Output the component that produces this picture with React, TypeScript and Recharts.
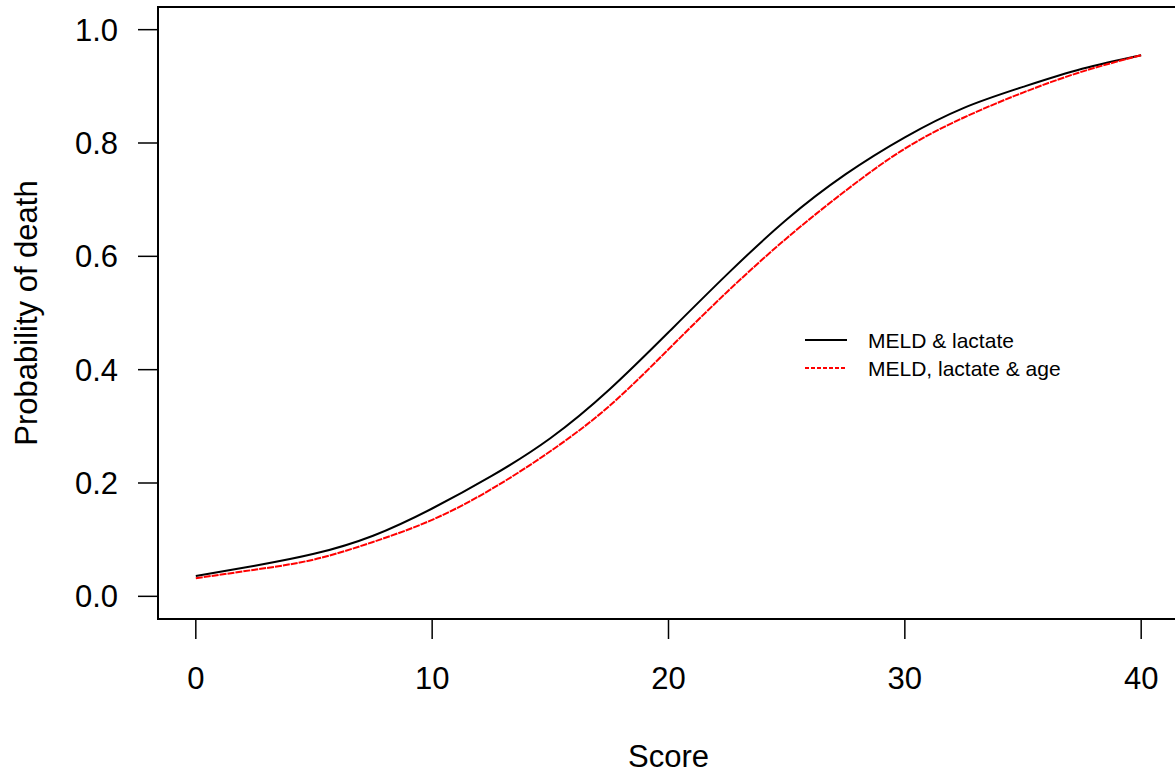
import React from 'react'
import { LineChart, Line, XAxis, YAxis, Legend, ReferenceArea } from 'recharts'

// score values every 2.5 points
const scores = [0, 2.5, 5, 7.5, 10, 12.5, 15, 17.5, 20, 22.5, 25, 27.5, 30, 32.5, 35, 37.5, 40]
const meldLactate = [0.036, 0.054, 0.075, 0.107, 0.155, 0.212, 0.279, 0.365, 0.466, 0.569, 0.665, 0.745, 0.81, 0.862, 0.899, 0.931, 0.955]
const meldLactateAge = [0.032, 0.047, 0.065, 0.096, 0.135, 0.189, 0.256, 0.336, 0.436, 0.538, 0.632, 0.716, 0.79, 0.845, 0.889, 0.926, 0.955]

const xTicks = [0, 10, 20, 30, 40]
const yTicks = [0, 0.2, 0.4, 0.6, 0.8, 1.0]
const seriesNames = ['MELD & lactate', 'MELD, lactate & age']

const FONT = '"Liberation Sans", Arial, sans-serif'

const chartData = scores.map((s, i) => ({ score: s, a: meldLactate[i], b: meldLactateAge[i] }))

function LegendBox({ payload }: any) {
  return (
    <div style={{ fontFamily: FONT, fontSize: '21px', color: '#000' }}>
      {(payload || []).map((p: any, i: number) => (
        <div key={p.value} style={{ display: 'flex', alignItems: 'center', height: '28px' }}>
          <svg width={42} height={28}>
            <line x1={0} x2={42} y1={14} y2={14} stroke={p.color} strokeWidth={2}
              strokeDasharray={i === 1 ? '4 2' : undefined} />
          </svg>
          <span style={{ marginLeft: '21px', lineHeight: '28px', position: 'relative', top: '1px' }}>{p.value}</span>
        </div>
      ))}
    </div>
  )
}

export default function App() {
  return (
    <div style={{ position: 'absolute', left: 0, top: 0, width: '1175px', height: '776px', overflow: 'hidden', background: '#fff' }}>
      <LineChart width={1180} height={776} data={chartData} margin={{ top: 7, right: 1, left: 0, bottom: 0 }}>
        <XAxis
          dataKey="score"
          type="number"
          domain={[-1.6, 41.6]}
          ticks={xTicks}
          allowDataOverflow
          axisLine={false}
          tickLine={{ stroke: '#000', strokeWidth: 1.5 }}
          tickSize={20}
          tickMargin={28}
          height={157}
          tick={{ fill: '#000', fontSize: 31, fontFamily: FONT }}
          label={({ viewBox }: any) => (
            <text x={viewBox.x + viewBox.width / 2} y={viewBox.y + 148} textAnchor="middle"
              fill="#000" fontSize={31} fontFamily={FONT}>Score</text>
          )}
        />
        <YAxis
          type="number"
          domain={[-0.04, 1.04]}
          ticks={yTicks}
          allowDataOverflow
          width={158}
          axisLine={false}
          tickLine={{ stroke: '#000', strokeWidth: 1.5 }}
          tickSize={20}
          tickMargin={20}
          tickFormatter={(v: number) => v.toFixed(1)}
          tick={{ fill: '#000', fontSize: 31, fontFamily: FONT }}
          label={({ viewBox }: any) => {
            const cx = viewBox.x + 37
            const cy = viewBox.y + viewBox.height / 2
            return (
              <text x={cx} y={cy} transform={`rotate(-90 ${cx} ${cy})`} textAnchor="middle"
                fill="#000" fontSize={31} fontFamily={FONT}>Probability of death</text>
            )
          }}
        />
        <ReferenceArea x1={-1.6} x2={41.6} y1={-0.04} y2={1.04} fill="none" fillOpacity={0}
          stroke="#000" strokeWidth={2} ifOverflow="visible" />
        <Legend
          layout="vertical"
          align="center"
          verticalAlign="middle"
          wrapperStyle={{ left: 805, top: 326, width: 'auto' }}
          content={<LegendBox />}
        />
        <Line name={seriesNames[0]} type="natural" dataKey="a" stroke="#000" strokeWidth={2}
          dot={false} isAnimationActive={false} />
        <Line name={seriesNames[1]} type="natural" dataKey="b" stroke="#ff0000" strokeWidth={2}
          strokeDasharray="7 1" dot={false} isAnimationActive={false} />
      </LineChart>
    </div>
  )
}
